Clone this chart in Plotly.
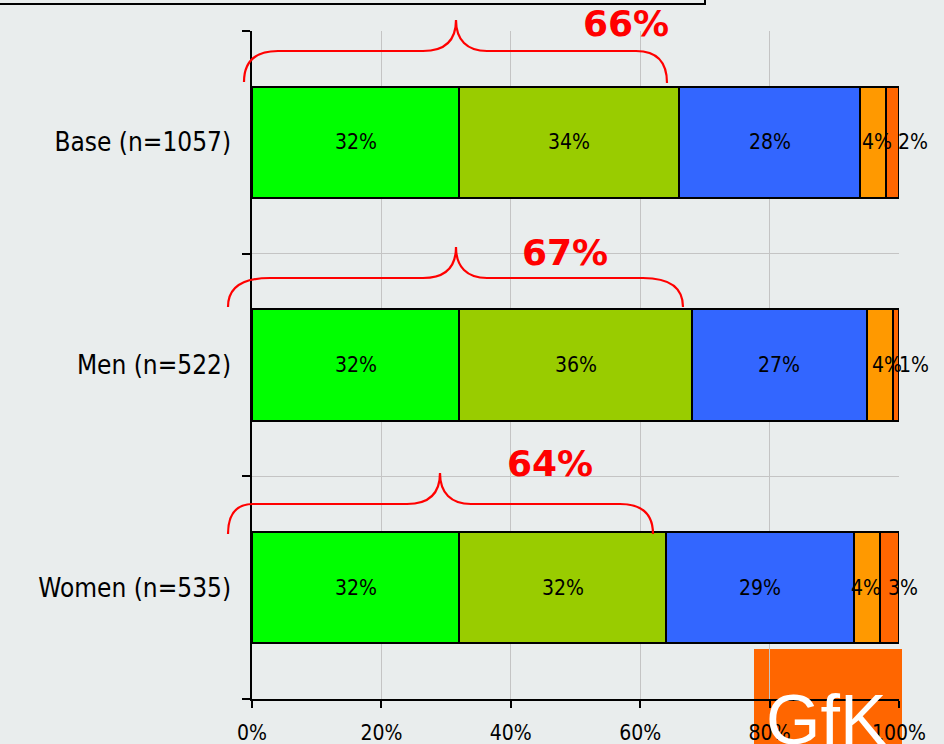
import plotly.graph_objects as go

# ---------------- data ----------------
categories = ["Base (n=1057)", "Men (n=522)", "Women (n=535)"]
series_names = ["S1", "S2", "S3", "S4", "S5"]
s1 = [32, 32, 32]
s2 = [34, 36, 32]
s3 = [28, 27, 29]
s4 = [4, 4, 4]
s5 = [2, 1, 3]
top_two_labels = ["66%", "67%", "64%"]
x_ticks = [0, 20, 40, 60, 80, 100]

# ---------------- style ----------------
colors = ["#00FF00", "#99CC00", "#3366FF", "#FF9900", "#FF6600"]
BG = "#E9EDED"
GRID = "#C4C4C4"
FONT = "DejaVu Sans Condensed, DejaVu Sans, sans-serif"
W, H = 944, 744
L, R, T, B = 252, 45, 31, 45
PW, PH = W - L - R, H - T - B

def px(x):
    return (x - L) / PW

def py(y):
    return (H - B - y) / PH

series = [s1, s2, s3, s4, s5]
ypos = [2, 1, 0]  # Base on top

fig = go.Figure()
for name, vals, col in zip(series_names, series, colors):
    fig.add_trace(go.Bar(
        name=name, x=vals, y=ypos, orientation="h", width=0.5,
        marker=dict(color=col, line=dict(color="black", width=2)),
        hoverinfo="skip", showlegend=False,
    ))

# value labels (per-label horizontal nudges as in the reference)
label_shift = [[0, 0, 0, 4, 20], [0, 0, 0, 7, 18], [0, 0, 0, -1, 14]]
annotations = []
for ci, yv in enumerate(ypos):
    cum = 0
    for si, vals in enumerate(series):
        v = vals[ci]
        annotations.append(dict(
            x=cum + v / 2, y=yv, xref="x", yref="y", text=f"{v}%",
            showarrow=False, xshift=label_shift[ci][si],
            font=dict(family=FONT, size=21, color="black"),
        ))
        cum += v

# braces (decoration geometry in pixels)
braces = [
    dict(lx=244, ly=82, hy=51, a=278, cx=456, cy=20, b=636, rx=667, ry=83, lab=(626, 24)),
    dict(lx=228, ly=307, hy=278, a=270, cx=456, cy=247, b=643, rx=683, ry=307, lab=(565, 252)),
    dict(lx=228, ly=534, hy=504, a=253, cx=440, cy=473, b=620, rx=653, ry=534, lab=(550, 463)),
]
shapes = []

def P(x, y):
    return f"{px(x):.5f},{py(y):.5f}"

for i, br in enumerate(braces):
    hy = br["hy"]
    d = (
        f"M {P(br['lx'], br['ly'])} "
        f"C {P(br['lx'], hy + (br['ly'] - hy) * 0.3)} {P(br['lx'] + (br['a'] - br['lx']) * 0.35, hy)} {P(br['a'], hy)} "
        f"L {P(br['cx'] - 33, hy)} "
        f"C {P(br['cx'] - 11, hy)} {P(br['cx'], hy - 11)} {P(br['cx'], br['cy'])} "
        f"C {P(br['cx'], hy - 11)} {P(br['cx'] + 11, hy)} {P(br['cx'] + 31, hy)} "
        f"L {P(br['b'], hy)} "
        f"C {P(br['b'] + (br['rx'] - br['b']) * 0.65, hy)} {P(br['rx'], hy + (br['ry'] - hy) * 0.3)} {P(br['rx'], br['ry'])}"
    )
    shapes.append(dict(type="path", path=d, xref="paper", yref="paper",
                       line=dict(color="#FF0000", width=2.2), layer="above"))
    lx, ly = br["lab"]
    annotations.append(dict(
        x=px(lx), y=py(ly), xref="paper", yref="paper", text=top_two_labels[i],
        showarrow=False, xanchor="center", yanchor="middle",
        font=dict(family="DejaVu Sans, sans-serif", size=36, color="#FF0000", weight="bold"),
    ))

# top-left box (partially visible)
shapes.append(dict(type="rect", xref="paper", yref="paper",
                   x0=px(-6), x1=px(705), y0=py(4), y1=py(-40),
                   line=dict(color="black", width=2), fillcolor="rgba(0,0,0,0)", layer="above"))
# GfK logo block
shapes.append(dict(type="rect", xref="paper", yref="paper",
                   x0=px(754), x1=px(902), y0=py(760), y1=py(649),
                   line=dict(width=0), fillcolor="#FF6600", layer="below"))
annotations.insert(0, dict(
    x=px(826), y=py(679), xref="paper", yref="paper", text="GfK",
    showarrow=False, xanchor="center", yanchor="top",
    font=dict(family="Liberation Sans, Arial, sans-serif", size=70, color="white"),
))

fig.update_layout(
    width=W, height=H, autosize=False,
    margin=dict(l=L, r=R, t=T, b=B, pad=0, autoexpand=False),
    paper_bgcolor=BG, plot_bgcolor=BG,
    barmode="stack", bargap=0,
    shapes=shapes, annotations=annotations,
    font=dict(family=FONT, color="black"),
    xaxis=dict(
        range=[0, 100], tickvals=x_ticks, ticktext=[f"{t}%" for t in x_ticks],
        ticks="outside", ticklen=7, tickwidth=1.5, tickcolor="black",
        showline=True, linecolor="black", linewidth=1.5,
        showgrid=True, gridcolor=GRID, gridwidth=1, zeroline=False,
        tickfont=dict(family=FONT, size=21, color="black"),
        ticklabelstandoff=7, automargin=False,
    ),
    yaxis=dict(
        range=[-0.5, 2.5], tickvals=ypos, ticktext=categories,
        ticks="", showgrid=False, zeroline=False,
        showline=True, linecolor="black", linewidth=1.5,
        tickfont=dict(family=FONT, size=26, color="black"),
        ticklabelstandoff=14, automargin=False,
        minor=dict(tickvals=[-0.5, 0.5, 1.5, 2.5], ticks="outside", ticklen=8,
                   tickwidth=1.5, tickcolor="black", showgrid=True,
                   gridcolor=GRID, gridwidth=1),
    ),
)

fig.write_html(
    "out.html",
    config={"displayModeBar": False},
    post_script="document.body.style.margin='0';document.body.style.padding='0';"
                "document.body.style.overflow='hidden';document.body.style.background='" + BG + "';",
)
